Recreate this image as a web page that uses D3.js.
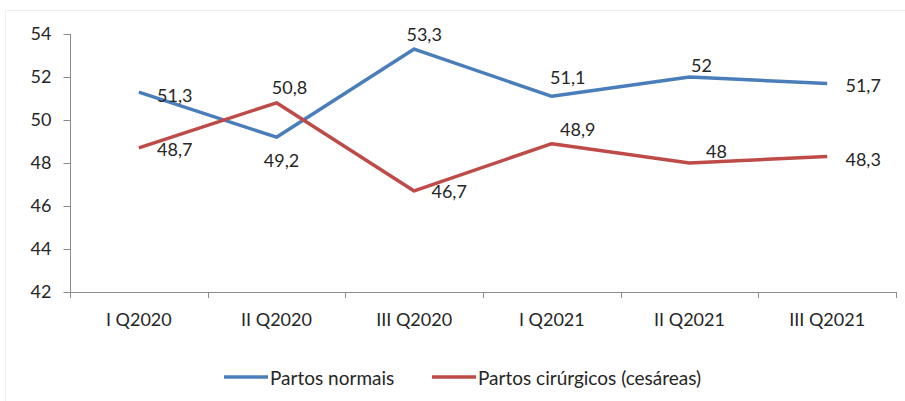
<!DOCTYPE html>
<html>
<head>
<meta charset="utf-8">
<script src="https://cdn.jsdelivr.net/npm/d3@7"></script>
<style>
  html, body { margin: 0; padding: 0; background: #fff; }
  svg { display: block; }
  text { font-family: Lato, "Open Sans", sans-serif; fill: #262626; font-weight: 400; }
</style>
</head>
<body>
<svg id="chart" width="905" height="401"></svg>
<script>
const categories = ["I Q2020", "II Q2020", "III Q2020", "I Q2021", "II Q2021", "III Q2021"];
const partosNormais = [51.3, 49.2, 53.3, 51.1, 52, 51.7];
const partosCirurgicos = [48.7, 50.8, 46.7, 48.9, 48, 48.3];
const yTicks = [42, 44, 46, 48, 50, 52, 54];
const seriesNames = ["Partos normais", "Partos cirúrgicos (cesáreas)"];
const seriesColors = ["#4A7EBB", "#BE4B48"];
// label offsets (text centre relative to point), layout only
const labelOffsetsNormais = [[36, 3], [5, 23], [10, -15], [16, -19], [12, -12], [36, 2]];
const labelOffsetsCirurgicos = [[36, 1], [13, -16], [35, 0], [26, -15], [27, -12], [36, 2]];

const svg = d3.select("#chart");

// faint chart-area border
svg.append("rect")
  .attr("x", 5.5).attr("y", 10.5)
  .attr("width", 920).attr("height", 420)
  .attr("fill", "none").attr("stroke", "#efefef").attr("stroke-width", 1);

const x = d3.scaleBand().domain(categories).range([70, 896]);
const y = d3.scaleLinear().domain([42, 54]).range([292, 34]);

const axisColor = "#8c8c8c";
const fontSize = "18px";

// y axis
const yAxis = svg.append("g")
  .attr("transform", "translate(70.5,0)")
  .call(d3.axisLeft(y).tickValues(yTicks).tickSize(7).tickPadding(12).tickFormat(d3.format("d")));
yAxis.attr("font-family", null).attr("font-size", null);
yAxis.select(".domain").attr("stroke", axisColor).attr("d", "M-0,292V34");
yAxis.selectAll(".tick line").attr("stroke", axisColor);
yAxis.selectAll(".tick text").style("font-size", fontSize).attr("fill", "#262626");
// extend y axis slightly below x axis
svg.append("line").attr("x1", 70.5).attr("x2", 70.5).attr("y1", 292).attr("y2", 298)
  .attr("stroke", axisColor);

// x axis
const xAxis = svg.append("g")
  .attr("transform", "translate(0,292.5)")
  .call(d3.axisBottom(x).tickSize(0).tickPadding(21));
xAxis.attr("font-family", null).attr("font-size", null);
xAxis.select(".domain").attr("stroke", axisColor).attr("d", "M70,0H896");
xAxis.selectAll(".tick text").style("font-size", fontSize).attr("fill", "#262626");
// category boundary ticks
const bounds = categories.map(c => x(c)).concat([x.range()[1]]);
svg.append("g").selectAll("line").data(bounds.slice(1)).join("line")
  .attr("x1", d => Math.round(d) + 0.5).attr("x2", d => Math.round(d) + 0.5)
  .attr("y1", 292).attr("y2", 298)
  .attr("stroke", axisColor);

const cx = c => x(c) + x.bandwidth() / 2;
const line = d3.line().x((d, i) => cx(categories[i])).y(d => y(d));

const series = [
  { values: partosNormais, color: seriesColors[0], offsets: labelOffsetsNormais },
  { values: partosCirurgicos, color: seriesColors[1], offsets: labelOffsetsCirurgicos }
];

series.forEach(s => {
  svg.append("path").datum(s.values)
    .attr("d", line)
    .attr("fill", "none")
    .attr("stroke", s.color)
    .attr("stroke-width", 3.5)
    .attr("stroke-linejoin", "round");
});

const fmt = v => String(v).replace(".", ",");
series.forEach(s => {
  svg.append("g").selectAll("text").data(s.values).join("text")
    .attr("x", (d, i) => cx(categories[i]) + s.offsets[i][0])
    .attr("y", (d, i) => y(d) + s.offsets[i][1])
    .attr("text-anchor", "middle")
    .attr("dominant-baseline", "central")
    .style("font-size", fontSize)
    .text(fmt);
});

// legend
const legendItems = [
  { name: seriesNames[0], color: seriesColors[0], x: 224 },
  { name: seriesNames[1], color: seriesColors[1], x: 432 }
];
const lg = svg.append("g");
legendItems.forEach(it => {
  lg.append("line")
    .attr("x1", it.x).attr("x2", it.x + 44)
    .attr("y1", 377).attr("y2", 377)
    .attr("stroke", it.color).attr("stroke-width", 3.5);
  lg.append("text")
    .attr("x", it.x + 46).attr("y", 377)
    .attr("dominant-baseline", "central")
    .style("font-size", "19px")
    .text(it.name);
});
</script>
</body>
</html>
